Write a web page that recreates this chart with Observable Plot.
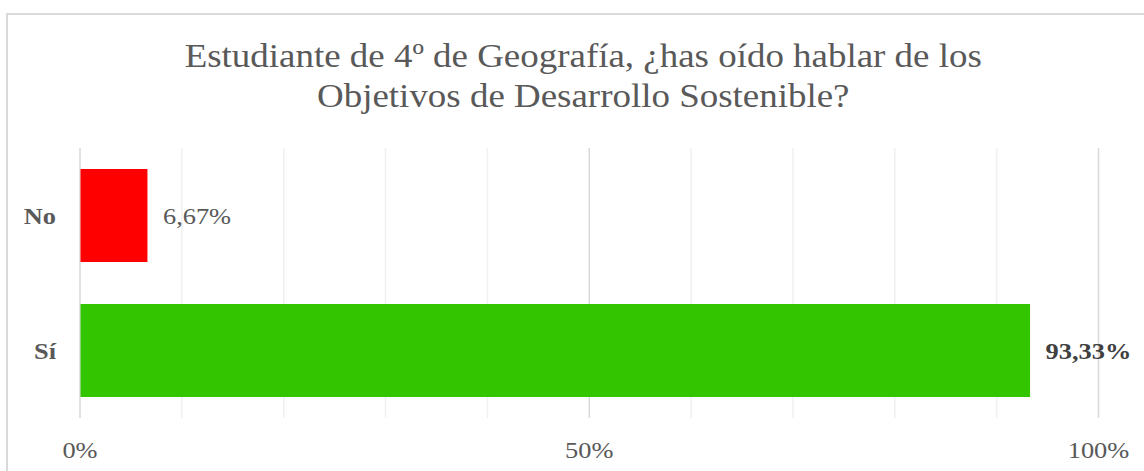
<!DOCTYPE html>
<html>
<head>
<meta charset="utf-8">
<script src="https://cdn.jsdelivr.net/npm/d3@7"></script>
<script src="https://cdn.jsdelivr.net/npm/@observablehq/plot@0.6"></script>
<style>
  html, body { margin: 0; padding: 0; background: #fff; overflow: hidden; }
  #wrap { position: relative; width: 1144px; height: 471px; }
  #border { position: absolute; left: 6px; top: 13px; width: 1200px; height: 600px;
            border-left: 2px solid #d9d9d9; border-top: 2px solid #d9d9d9; box-sizing: border-box; }
  #chart { position: absolute; left: 0; top: 0; }
</style>
</head>
<body>
<div id="wrap"><div id="border"></div><div id="chart"></div></div>
<script>
const titleLines = ["Estudiante de 4º de Geografía, ¿has oído hablar de los", "Objetivos de Desarrollo Sostenible?"];
const categories = ["No", "Sí"];
const values = [6.67, 93.33];
const valueLabels = ["6,67%", "93,33%"];
const barColors = ["#ff0000", "#33c600"];
const majorTicks = [0, 50, 100];
const tickLabels = ["0%", "50%", "100%"];
const minorTicks = [10, 20, 30, 40, 60, 70, 80, 90];

const data = categories.map((c, i) => ({cat: c, value: values[i], label: valueLabels[i], color: barColors[i]}));
const font = "'Liberation Serif', 'Times New Roman', serif";
const titleSize = 33, smallSize = 24;

const plot = Plot.plot({
  width: 1144,
  height: 471,
  marginTop: 148,
  marginBottom: 53,
  marginLeft: 79.5,
  marginRight: 46,
  style: {fontFamily: font, background: "transparent", overflow: "visible"},
  x: {domain: [0, 100], axis: null},
  y: {domain: categories, paddingInner: 0.31, paddingOuter: 0.155, axis: null},
  marks: [
    Plot.ruleX(minorTicks, {stroke: "#f0f0f0", strokeWidth: 1.5}),
    Plot.ruleX(majorTicks, {stroke: "#d9d9d9", strokeWidth: 1.5}),
    Plot.barX(data, {x: "value", y: "cat", fill: "color", insetLeft: 1}),
    Plot.text(data.filter(d => d.cat === "No"), {x: "value", y: "cat", text: "label", textAnchor: "start", dx: 15,
      fontSize: smallSize, fill: "#595959", className: "stretch"}),
    Plot.text(data.filter(d => d.cat === "Sí"), {x: "value", y: "cat", text: "label", textAnchor: "start", dx: 15,
      fontSize: smallSize, fontWeight: "bold", fill: "#404040", className: "stretch"}),
    Plot.text(categories, {x: 0, y: d => d, text: d => d, textAnchor: "end", dx: -24,
      fontSize: smallSize, fontWeight: "bold", fill: "#595959", className: "stretch"}),
    Plot.text(majorTicks, {x: d => d, frameAnchor: "bottom", lineAnchor: "top", text: (d, i) => tickLabels[i],
      dy: 457 - 0.71 * smallSize - 418, fontSize: smallSize, fill: "#595959", className: "stretch"}),
    Plot.text([titleLines[0]], {frameAnchor: "top", lineAnchor: "top", text: d => d,
      dx: -6, dy: 66 - 0.71 * titleSize - 148, fontSize: titleSize, fill: "#595959", className: "stretch-title"}),
    Plot.text([titleLines[1]], {frameAnchor: "top", lineAnchor: "top", text: d => d,
      dx: -6, dy: 106 - 0.71 * titleSize - 148, fontSize: titleSize, fill: "#595959", className: "stretch-title"}),
  ]
});
// Reference glyphs are slightly wider than Liberation Serif: stretch text horizontally around its anchor
plot.querySelectorAll("g.stretch text").forEach(t => {
  const tr = t.getAttribute("transform") || "";
  t.setAttribute("transform", tr + " scale(1.1,1)");
});
plot.querySelectorAll("g.stretch-title text").forEach(t => {
  const tr = t.getAttribute("transform") || "";
  t.setAttribute("transform", tr + " scale(1.12,1)");
});
document.getElementById("chart").appendChild(plot);
</script>
</body>
</html>
